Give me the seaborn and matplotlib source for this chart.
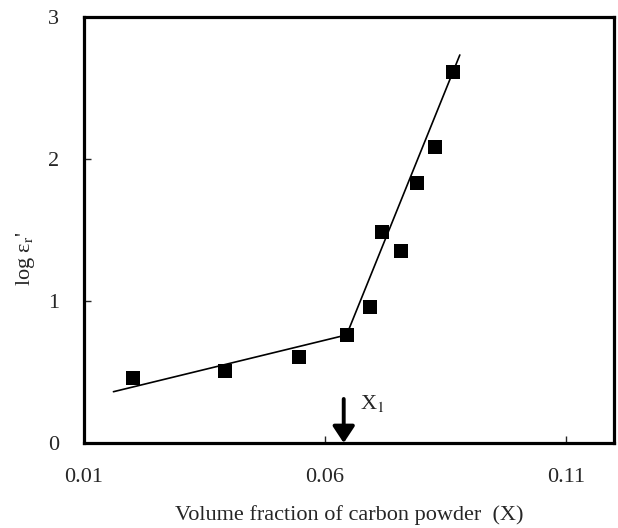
import matplotlib
matplotlib.use("Agg")
import matplotlib.pyplot as plt
import seaborn as sns
import pandas as pd

# Measured permittivity vs. carbon volume fraction
x_frac = [0.0201, 0.0393, 0.0547, 0.0646, 0.0693, 0.0718, 0.0758, 0.0791, 0.0828, 0.0865]
log_eps = [0.456, 0.509, 0.608, 0.761, 0.960, 1.488, 1.352, 1.829, 2.087, 2.610]

# Linear fits below and above the percolation threshold
low_fit_x = [0.0161, 0.0645]
low_fit_y = [0.361, 0.761]
high_fit_x = [0.0645, 0.0880]
high_fit_y = [0.761, 2.732]

# Threshold marker
x1 = 0.0639

x_ticks = [0.01, 0.06, 0.11]
x_tick_labels = ["0.01", "0.06", "0.11"]
y_ticks = [0, 1, 2, 3]

sns.set_theme(style="white")
plt.rcParams["font.family"] = ["Liberation Serif", "DejaVu Serif"]
plt.rcParams["mathtext.fontset"] = "stix"

fig = plt.figure(figsize=(6.18, 5.28), dpi=100)
ax = fig.add_axes([0.136, 0.161, 0.8575, 0.807])

pts = pd.DataFrame({"x": x_frac, "y": log_eps})
low = pd.DataFrame({"x": low_fit_x, "y": low_fit_y})
high = pd.DataFrame({"x": high_fit_x, "y": high_fit_y})

sns.lineplot(data=low, x="x", y="y", ax=ax, color="black", lw=1.2, sort=False)
sns.lineplot(data=high, x="x", y="y", ax=ax, color="black", lw=1.2, sort=False)
sns.scatterplot(data=pts, x="x", y="y", ax=ax, marker="s", s=110,
                color="black", edgecolor="black", linewidth=0, zorder=3)

ax.annotate("", xy=(x1, 0.0), xytext=(x1, 0.31),
            arrowprops=dict(arrowstyle="-|>,head_length=0.5,head_width=0.33",
                            lw=2.8, color="black", mutation_scale=20,
                            shrinkA=0, shrinkB=0))
ax.text(x1 + 0.0033, 0.28, r"X$_1$", fontsize=16, va="center", ha="left")

ax.set_xlim(0.01, 0.12)
ax.set_ylim(0, 3)
ax.set_xticks(x_ticks)
ax.set_xticklabels(x_tick_labels)
ax.set_yticks(y_ticks)
ax.tick_params(direction="in", length=5, width=1, labelsize=16,
               bottom=True, left=True)
ax.tick_params(axis="x", pad=18)
ax.tick_params(axis="y", pad=18)

for sp in ax.spines.values():
    sp.set_linewidth(2.3)
    sp.set_color("black")

ax.set_xlabel("Volume fraction of carbon powder  (X)", fontsize=16)
ax.xaxis.set_label_coords(0.5, -0.145)
ax.set_ylabel("log ε$_\\mathrm{r}$'", fontsize=16)
ax.yaxis.set_label_coords(-0.089, 0.434)

fig.savefig("out.png", dpi=100)
